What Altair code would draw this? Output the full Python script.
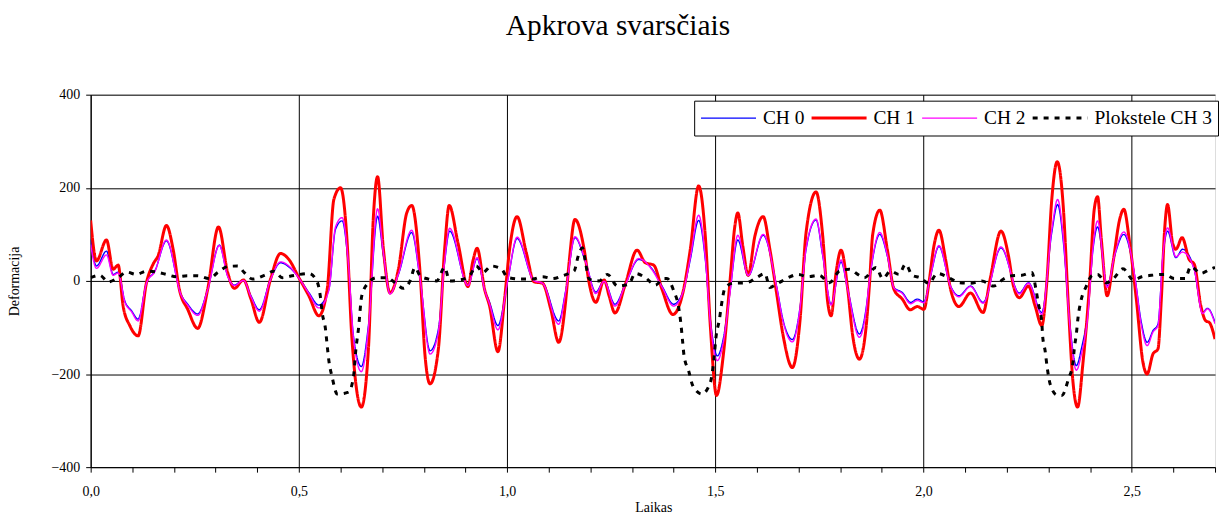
import altair as alt
import pandas as pd

# ---- data (time in s, deformation) ----
ch0 = [(0.000, 89), (0.014, 32), (0.038, 64), (0.054, 14), (0.066, 19), (0.082, -43), (0.098, -64),
       (0.114, -82), (0.134, -4), (0.154, 21), (0.182, 86), (0.217, -29), (0.233, -50), (0.257, -71),
       (0.281, -18), (0.309, 77), (0.329, 11), (0.345, -9), (0.367, 2), (0.385, -32), (0.405, -62),
       (0.432, 4), (0.456, 39), (0.476, 30), (0.500, 7), (0.524, -25), (0.548, -52), (0.572, -18),
       (0.588, 111), (0.604, 129), (0.619, 32), (0.631, -118), (0.650, -184), (0.667, -96), (0.689, 139),
       (0.703, 54), (0.719, -25), (0.739, 14), (0.771, 104), (0.791, 4), (0.815, -150), (0.835, -104),
       (0.850, 40), (0.862, 107), (0.906, -9), (0.928, 48), (0.946, -18), (0.958, -46), (0.978, -96),
       (1.002, 4), (1.024, 91), (1.065, 0), (1.085, -4), (1.124, -86), (1.141, -20), (1.163, 93),
       (1.189, 39), (1.213, -24), (1.233, 0), (1.259, -50), (1.284, -7), (1.316, 46), (1.348, 26),
       (1.372, -11), (1.400, -50), (1.424, -18), (1.440, 46), (1.460, 130), (1.476, 46), (1.488, -82),
       (1.505, -161), (1.519, -125), (1.535, -25), (1.554, 88), (1.579, 11), (1.615, 98), (1.647, -11),
       (1.663, -85), (1.685, -126), (1.703, -60), (1.718, 68), (1.742, 131), (1.758, 54), (1.778, -50),
       (1.802, 41), (1.818, -18), (1.846, -114), (1.862, -60), (1.870, -2), (1.878, 48), (1.895, 100),
       (1.913, 54), (1.929, -14), (1.949, -25), (1.969, -46), (1.985, -39), (2.001, -45), (2.017, 11),
       (2.037, 74), (2.065, -11), (2.085, -32), (2.113, -11), (2.143, -46), (2.186, 71), (2.230, -26),
       (2.252, -4), (2.284, -68), (2.308, 104), (2.322, 164), (2.336, 82), (2.351, -89), (2.367, -182),
       (2.379, -146), (2.395, -61), (2.407, 68), (2.418, 116), (2.441, -11), (2.459, 54), (2.481, 100),
       (2.507, 11), (2.523, -89), (2.537, -132), (2.551, -107), (2.563, -93), (2.575, 54), (2.586, 107),
       (2.606, 50), (2.622, 68), (2.650, 25), (2.670, -68), (2.682, -59), (2.700, -89)]

ch1 = [(0.000, 130), (0.014, 43), (0.038, 88), (0.054, 25), (0.066, 34), (0.078, -54), (0.094, -96),
       (0.114, -118), (0.134, -4), (0.150, 36), (0.162, 54), (0.182, 119), (0.198, 68), (0.213, -18),
       (0.233, -61), (0.257, -102), (0.281, -18), (0.307, 116), (0.329, 18), (0.345, -16), (0.367, 2),
       (0.385, -39), (0.405, -89), (0.432, 4), (0.456, 59), (0.476, 46), (0.500, 7), (0.524, -32),
       (0.548, -75), (0.568, -18), (0.584, 175), (0.600, 200), (0.616, 82), (0.627, -118), (0.650, -271),
       (0.667, -146), (0.679, 139), (0.689, 224), (0.703, 68), (0.719, -26), (0.739, 25), (0.759, 146),
       (0.771, 162), (0.791, 18), (0.803, -161), (0.815, -221), (0.835, -146), (0.850, 68), (0.861, 162),
       (0.882, 82), (0.906, -12), (0.918, 43), (0.928, 70), (0.946, -18), (0.958, -54), (0.978, -152),
       (0.994, -39), (1.006, 68), (1.024, 138), (1.046, 61), (1.065, -2), (1.085, -5), (1.105, -61),
       (1.124, -132), (1.141, -40), (1.149, 40), (1.163, 132), (1.185, 68), (1.197, -4), (1.213, -46),
       (1.233, 2), (1.245, -32), (1.259, -69), (1.284, -7), (1.312, 66), (1.332, 39), (1.352, 34),
       (1.372, -18), (1.398, -72), (1.424, -18), (1.440, 68), (1.460, 204), (1.476, 96), (1.488, -96),
       (1.503, -246), (1.519, -161), (1.535, -4), (1.547, 118), (1.554, 146), (1.566, 75), (1.579, 12),
       (1.595, 96), (1.615, 138), (1.631, 68), (1.647, -25), (1.663, -118), (1.685, -186), (1.703, -89),
       (1.718, 104), (1.742, 191), (1.758, 96), (1.770, -46), (1.778, -75), (1.790, 18), (1.802, 66),
       (1.818, -18), (1.830, -118), (1.846, -168), (1.862, -100), (1.870, -10), (1.878, 100), (1.895, 152),
       (1.913, 68), (1.929, -18), (1.949, -39), (1.968, -62), (1.985, -55), (2.001, -61), (2.013, -4),
       (2.025, 75), (2.037, 109), (2.053, 46), (2.065, -18), (2.085, -55), (2.113, -26), (2.143, -68),
       (2.160, 4), (2.186, 107), (2.204, 54), (2.216, -11), (2.230, -36), (2.252, -11), (2.268, -54),
       (2.284, -96), (2.296, -4), (2.308, 175), (2.321, 256), (2.336, 154), (2.347, -39), (2.359, -218),
       (2.370, -271), (2.383, -175), (2.399, -4), (2.410, 154), (2.418, 181), (2.427, 89), (2.441, -32),
       (2.455, 39), (2.471, 132), (2.481, 154), (2.495, 82), (2.511, -39), (2.527, -175), (2.537, -200),
       (2.551, -157), (2.563, -146), (2.571, -40), (2.579, 110), (2.586, 164), (2.598, 82), (2.606, 68),
       (2.621, 93), (2.638, 46), (2.650, 36), (2.666, -54), (2.678, -86), (2.686, -89), (2.700, -125)]

ch2 = [(0.000, 78), (0.014, 27), (0.038, 56), (0.054, 12), (0.066, 17), (0.082, -45), (0.098, -66),
       (0.114, -86), (0.134, -5), (0.154, 20), (0.182, 88), (0.217, -30), (0.233, -52), (0.257, -74),
       (0.281, -19), (0.309, 76), (0.329, 10), (0.345, -10), (0.367, 1), (0.385, -34), (0.405, -65),
       (0.432, 3), (0.456, 41), (0.476, 32), (0.500, 6), (0.524, -27), (0.548, -58), (0.572, -20),
       (0.588, 116), (0.604, 136), (0.619, 36), (0.631, -122), (0.650, -195), (0.667, -102), (0.689, 155),
       (0.703, 60), (0.719, -28), (0.739, 15), (0.771, 109), (0.791, 5), (0.815, -157), (0.835, -110),
       (0.850, 42), (0.862, 113), (0.906, -10), (0.928, 50), (0.946, -19), (0.958, -50), (0.978, -105),
       (1.002, 3), (1.024, 94), (1.065, 0), (1.085, -5), (1.124, -93), (1.141, -22), (1.163, 95),
       (1.189, 40), (1.213, -27), (1.233, -1), (1.259, -54), (1.284, -8), (1.316, 48), (1.348, 24),
       (1.372, -13), (1.400, -54), (1.424, -19), (1.440, 50), (1.460, 141), (1.476, 50), (1.488, -88),
       (1.505, -171), (1.519, -133), (1.535, -28), (1.554, 98), (1.579, 12), (1.615, 100), (1.647, -12),
       (1.663, -88), (1.685, -131), (1.703, -62), (1.718, 70), (1.742, 133), (1.758, 56), (1.778, -52),
       (1.802, 45), (1.818, -19), (1.846, -121), (1.862, -64), (1.870, 0), (1.878, 50), (1.895, 104),
       (1.913, 56), (1.929, -15), (1.949, -27), (1.969, -49), (1.985, -42), (2.001, -47), (2.017, 12),
       (2.037, 76), (2.065, -12), (2.085, -34), (2.113, -12), (2.143, -48), (2.186, 73), (2.230, -28),
       (2.252, -5), (2.284, -72), (2.308, 110), (2.322, 175), (2.336, 90), (2.351, -92), (2.367, -192),
       (2.379, -158), (2.395, -70), (2.407, 72), (2.418, 129), (2.441, -14), (2.459, 56), (2.481, 105),
       (2.507, 12), (2.523, -95), (2.537, -139), (2.551, -110), (2.563, -96), (2.575, 56), (2.586, 114),
       (2.606, 52), (2.622, 62), (2.650, 25), (2.670, -70), (2.682, -60), (2.700, -92)]

ch3 = [(0.000, 7), (0.022, 12), (0.042, -2), (0.066, 7), (0.086, 19), (0.110, 14), (0.134, 21),
       (0.158, 19), (0.182, 14), (0.205, 9), (0.233, 11), (0.257, 11), (0.285, 5), (0.305, 18),
       (0.329, 31), (0.353, 32), (0.369, 18), (0.389, 4), (0.417, 12), (0.440, 21), (0.460, 7),
       (0.484, 11), (0.524, 16), (0.544, -2), (0.552, -36), (0.556, -68), (0.564, -104), (0.568, -139),
       (0.572, -171), (0.580, -207), (0.592, -243), (0.619, -239), (0.631, -207), (0.637, -146),
       (0.643, -104), (0.651, -32), (0.667, -4), (0.687, 7), (0.711, 7), (0.735, -7), (0.751, -16),
       (0.767, 0), (0.779, 29), (0.791, 11), (0.811, 4), (0.831, 0), (0.850, 29), (0.862, 0),
       (0.886, 2), (0.910, 11), (0.926, 32), (0.942, 18), (0.962, 32), (0.986, 26), (1.002, 7),
       (1.034, 4), (1.062, 4), (1.085, 9), (1.109, 5), (1.133, 11), (1.149, 16), (1.161, 21),
       (1.171, 54), (1.181, 71), (1.189, 36), (1.197, 4), (1.221, 0), (1.241, 14), (1.265, -11),
       (1.292, -7), (1.308, 16), (1.332, 7), (1.356, -9), (1.376, 5), (1.384, 5), (1.400, -21),
       (1.412, -57), (1.417, -89), (1.421, -125), (1.425, -161), (1.436, -193), (1.446, -225),
       (1.468, -243), (1.488, -218), (1.495, -182), (1.502, -118), (1.510, -82), (1.515, -50),
       (1.523, -16), (1.542, -5), (1.575, -4), (1.599, 7), (1.619, 16), (1.631, -14), (1.647, -7),
       (1.675, 7), (1.699, 14), (1.722, 9), (1.750, 12), (1.774, -4), (1.798, 21), (1.822, 25),
       (1.842, 14), (1.858, 7), (1.886, 29), (1.902, 5), (1.921, 21), (1.941, 14), (1.957, 36),
       (1.973, 12), (1.992, 7), (2.013, -5), (2.033, 16), (2.065, 5), (2.085, -4), (2.113, -5),
       (2.140, 0), (2.168, -11), (2.192, 4), (2.212, 11), (2.236, 12), (2.260, 18), (2.270, -18),
       (2.276, -50), (2.284, -89), (2.286, -118), (2.292, -150), (2.297, -186), (2.304, -221),
       (2.320, -245), (2.332, -246), (2.348, -211), (2.359, -175), (2.362, -146), (2.367, -114),
       (2.371, -79), (2.378, -43), (2.391, -11), (2.405, 12), (2.418, 14), (2.439, -4), (2.455, 4),
       (2.479, 26), (2.504, 2), (2.524, 9), (2.547, 12), (2.579, 14), (2.602, 5), (2.628, 5),
       (2.642, 31), (2.666, 16), (2.686, 24), (2.700, 29)]

series_names = ["CH 0", "CH 1", "CH 2", "Plokstele CH 3"]
series_colors = ["#0000ff", "#ff0000", "#ff00ff", "#000000"]
series_widths = [1.4, 3.0, 1.4, 3.0]
series_dashes = [[1, 0], [1, 0], [1, 0], [5, 6]]
x_ticks = [0.0, 0.1, 0.2, 0.3, 0.4, 0.5, 0.6, 0.7, 0.8, 0.9, 1.0, 1.1, 1.2, 1.3, 1.4,
           1.5, 1.6, 1.7, 1.8, 1.9, 2.0, 2.1, 2.2, 2.3, 2.4, 2.5, 2.6, 2.7]
y_ticks = [-400, -200, 0, 200, 400]

frames = []
for name, pts in zip(series_names, [ch0, ch1, ch2, ch3]):
    df = pd.DataFrame(pts, columns=["t", "v"])
    df["series"] = name
    frames.append(df)
data = pd.concat(frames, ignore_index=True)

FONT = "Liberation Serif"
major = "abs(datum.value * 2 - round(datum.value * 2)) < 0.001"

x_enc = alt.X(
    "t:Q",
    scale=alt.Scale(domain=[0, 2.7], nice=False, zero=False),
    axis=alt.Axis(
        values=x_ticks,
        labelExpr=f"{major} ? replace(format(datum.value, '.1f'), '.', ',') : ''",
        grid=True,
        gridColor="black",
        gridWidth=1,
        gridOpacity={"condition": {"test": major, "value": 1}, "value": 0},
        tickColor="black",
        tickSize=5,
        domainColor="black",
        labelFont=FONT,
        labelFontSize=14,
        labelColor="black",
        labelPadding=12,
        labelFlush=False,
        labelOverlap=False,
        title="Laikas",
        titleFont=FONT,
        titleFontSize=14,
        titleFontWeight="normal",
        titleColor="black",
        titleX=565,
        titleY=45,
        titleBaseline="alphabetic",
        titleAlign="center",
    ),
)
y_enc = alt.Y(
    "v:Q",
    scale=alt.Scale(domain=[-400, 400], nice=False, zero=False),
    axis=alt.Axis(
        values=y_ticks,
        grid=True,
        gridColor="black",
        gridWidth=1,
        tickColor="black",
        tickSize=5,
        domainColor="black",
        labelFont=FONT,
        labelFontSize=14,
        labelColor="black",
        labelPadding=6,
        title="Deformacija",
        titleFont=FONT,
        titleFontSize=14,
        titleFontWeight="normal",
        titleColor="black",
        titleX=-76,
        titleY=187,
        titleAngle=270,
        titleBaseline="middle",
        titleAlign="center",
    ),
)

legend = alt.Legend(
    title=None,
    orient="none",
    legendX=606,
    legendY=6,
    direction="horizontal",
    columns=4,
    symbolType="stroke",
    symbolSize=3050,
    clipHeight=25,
    labelFont=FONT,
    labelFontSize=19.5,
    labelColor="black",
    labelOffset=5,
    labelLimit=300,
    columnPadding=5,
    padding=5,
    strokeColor="black",
    fillColor="white",
    cornerRadius=0,
)

color_enc = alt.Color("series:N", scale=alt.Scale(domain=series_names, range=series_colors), legend=legend)
dash_enc = alt.StrokeDash("series:N", scale=alt.Scale(domain=series_names, range=series_dashes), legend=legend)
width_enc = alt.StrokeWidth("series:N", scale=alt.Scale(type="ordinal", domain=series_names, range=series_widths), legend=legend)

base = alt.Chart(data).mark_line(interpolate="monotone", clip=True, strokeCap="butt").encode(
    x=x_enc, y=y_enc, color=color_enc, strokeDash=dash_enc, strokeWidth=width_enc,
)

layers = [base.transform_filter(alt.datum.series == name) for name in series_names]

chart = alt.layer(*layers).properties(
    width=1129,
    height=374,
    title=alt.TitleParams(
        "Apkrova svarsčiais",
        font=FONT,
        fontSize=29.5,
        fontWeight="normal",
        color="black",
        anchor="middle",
        dx=-35,
        offset=46,
    ),
    autosize=alt.AutoSizeParams(type="none"),
    padding={"left": 83, "top": 86, "right": 5, "bottom": 46},
).configure_view(stroke="black", strokeWidth=1).configure(background="white")

chart.save("out.html", embed_options={"renderer": "svg", "actions": False})
